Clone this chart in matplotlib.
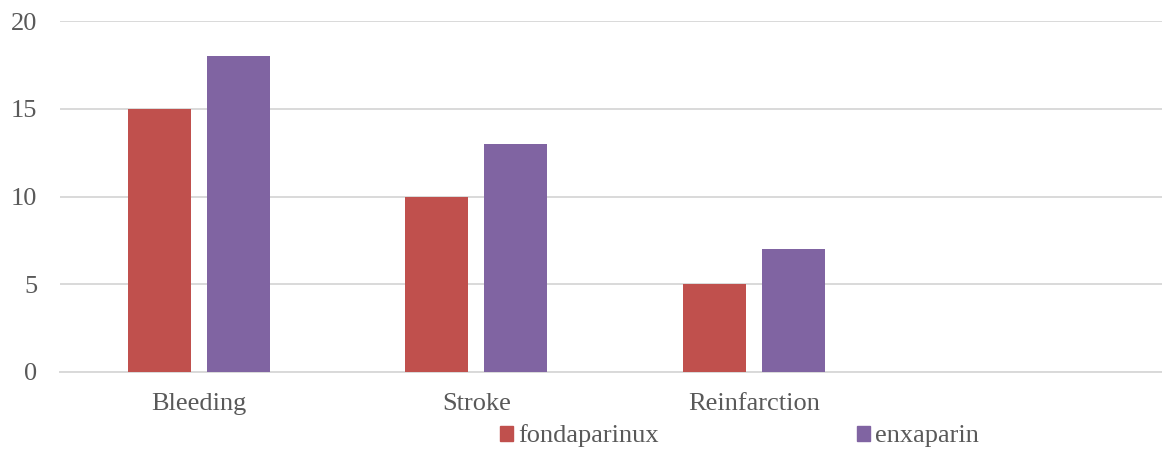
import matplotlib
matplotlib.use("Agg")
import matplotlib.pyplot as plt
import numpy as np
from matplotlib.patches import Patch

# categorias (a quarta fica vazia, como no eixo original)
categorias = ["Bleeding", "Stroke", "Reinfarction", ""]
fondaparinux = [15, 10, 5, np.nan]
enxaparin = [18, 13, 7, np.nan]
series = ["fondaparinux", "enxaparin"]

VERMELHO = "#C0504D"
ROXO = "#8064A2"
CINZA_TXT = "#595959"
CINZA_GRADE = "#D9D9D9"
TAM = 19

plt.rcParams["font.family"] = ["Liberation Serif", "DejaVu Serif"]

W, H = 1162, 450
fig = plt.figure(figsize=(W / 100, H / 100), dpi=100)
# eixo de 60 px até 1170 px (passa da borda direita de propósito)
ax = fig.add_axes([60 / W, 1 - 372 / H, 1110 / W, 351 / H])

x = np.arange(len(categorias))
largura = 0.227
desloc = 0.142
ax.bar(x - desloc, fondaparinux, largura, color=VERMELHO, zorder=3)
ax.bar(x + desloc, enxaparin, largura, color=ROXO, zorder=3)

ax.set_xlim(-0.5, len(categorias) - 0.5)
ax.set_ylim(0, 20)
ax.set_yticks([0, 5, 10, 15, 20])
ax.set_xticks(x)
ax.set_xticklabels(categorias)
ax.tick_params(axis="both", length=0, labelsize=TAM, colors=CINZA_TXT)
ax.tick_params(axis="y", pad=16.5)
ax.tick_params(axis="x", pad=15)
ax.yaxis.grid(True, color=CINZA_GRADE, linewidth=1.4, zorder=0)
for lado in ["top", "right", "left"]:
    ax.spines[lado].set_visible(False)
ax.spines["bottom"].set_color(CINZA_GRADE)
ax.spines["bottom"].set_linewidth(1.4)

handles = [Patch(color=VERMELHO), Patch(color=ROXO)]
leg = fig.legend(handles, series, loc="center left",
                 bbox_to_anchor=(499.5 / W, 1 - 436 / H), ncol=2, frameon=False,
                 fontsize=TAM, handlelength=0.5, handleheight=0.5,
                 handletextpad=0.2, columnspacing=7.5, borderpad=0,
                 borderaxespad=0)
for t in leg.get_texts():
    t.set_color(CINZA_TXT)

fig.savefig("out.png", dpi=100)
